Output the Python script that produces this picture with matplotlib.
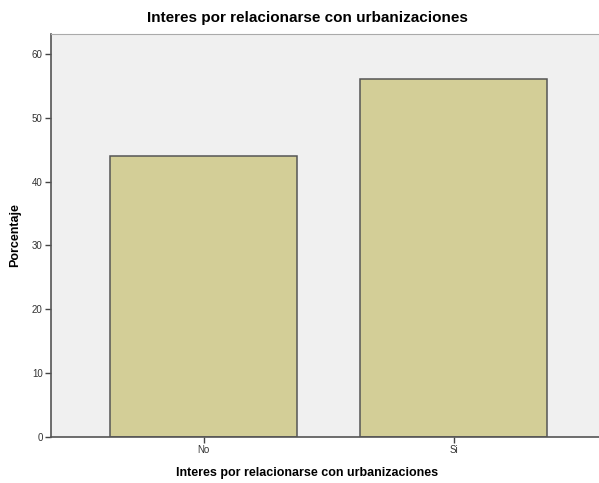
import matplotlib.pyplot as plt

categorias = ['No', 'Si']
porcentajes = [44.0, 56.0]

plt.rcParams['font.family'] = ['Liberation Sans', 'DejaVu Sans']

fig = plt.figure(figsize=(5.99, 4.83), dpi=100)
ax = fig.add_axes([51/599, 46/483, 1 - 51/599, (437-34)/483])
ax.set_facecolor('#F0F0F0')

pos = list(range(len(categorias)))
ax.bar(pos, porcentajes, width=0.75, color='#D3CE97', edgecolor='#555555', linewidth=1.1, zorder=2)

ax.set_xlim(-0.61, 1.582)
ax.set_ylim(0, 63.1)
ax.set_xticks(pos)
ax.set_xticklabels(categorias)
ax.set_yticks(range(0, 61, 10))
ax.tick_params(axis='both', length=4, width=1, color='#444444', labelsize=7, labelcolor='#333333', pad=2)

for s in ['left', 'bottom']:
    ax.spines[s].set_color('#555555')
    ax.spines[s].set_linewidth(1.2)
ax.spines['top'].set_color('#AAAAAA')
ax.spines['right'].set_visible(False)

fig.text(307/599, 1 - 18/483, 'Interes por relacionarse con urbanizaciones', ha='center', va='center',
         fontsize=11, fontweight='bold')
fig.text(307/599, 1 - 473/483, 'Interes por relacionarse con urbanizaciones', ha='center', va='center',
         fontsize=9, fontweight='bold')
fig.text(15/599, 1 - 235/483, 'Porcentaje', ha='center', va='center', rotation=90,
         fontsize=9, fontweight='bold')

fig.savefig('out.png', dpi=100, facecolor='white')
